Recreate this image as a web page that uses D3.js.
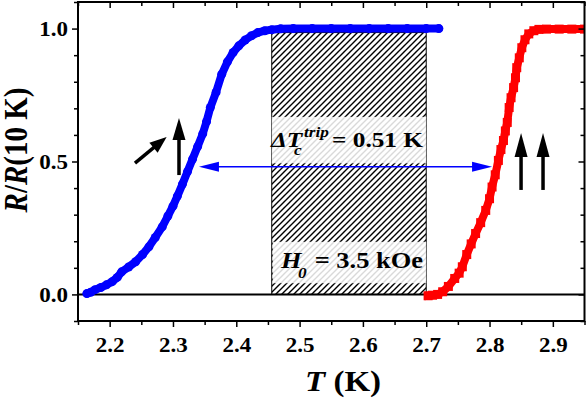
<!DOCTYPE html>
<html><head><meta charset="utf-8">
<script src="https://cdn.jsdelivr.net/npm/d3@7"></script>
<style>body{margin:0;background:#fff}svg{display:block}</style>
</head><body><svg id="c" width="586" height="398"></svg>
<script>
// ---- data ----
const blueT = [2.164,2.170,2.177,2.186,2.195,2.204,2.212,2.219,2.230,2.241,2.252,2.262,2.272,2.283,2.292,2.300,2.307,2.315,2.323,2.331,2.339,2.347,2.353,2.359,2.368,2.377,2.386,2.395,2.404,2.414,2.424,2.434,2.445,2.456,2.470,2.490,2.520,2.550,2.580,2.610,2.640,2.670,2.700,2.720];
const blueR = [0.003,0.008,0.018,0.026,0.036,0.048,0.064,0.085,0.103,0.123,0.150,0.179,0.214,0.254,0.295,0.332,0.370,0.415,0.462,0.509,0.556,0.604,0.650,0.703,0.760,0.828,0.875,0.910,0.935,0.957,0.973,0.985,0.992,0.996,0.999,1.000,1.000,1.000,1.000,1.000,1.000,1.000,1.000,1.000];
const redT = [2.703,2.710,2.718,2.726,2.735,2.745,2.752,2.757,2.764,2.771,2.778,2.786,2.794,2.800,2.804,2.809,2.814,2.818,2.822,2.825,2.828,2.831,2.834,2.838,2.841,2.843,2.847,2.851,2.856,2.862,2.870,2.878,2.890,2.910,2.930,2.950,2.960];
const redR = [-0.005,-0.003,0.000,0.010,0.030,0.060,0.080,0.104,0.150,0.190,0.229,0.270,0.316,0.360,0.404,0.450,0.504,0.545,0.579,0.615,0.647,0.703,0.740,0.778,0.815,0.853,0.890,0.928,0.958,0.980,0.992,0.997,0.998,0.998,0.998,0.998,0.998];
const xTicks = [2.2,2.3,2.4,2.5,2.6,2.7,2.8,2.9];
const xMinor = [2.15,2.25,2.35,2.45,2.55,2.65,2.75,2.85,2.95];
const yTicks = [0.0,0.5,1.0];
const yMinor = [-0.1,0.1,0.2,0.3,0.4,0.6,0.7,0.8,0.9,1.1];
const xTitle = "T";
const tripWindow = [2.456, 2.700];   // hatched range
const tripLabel = "= 0.51 K";
const fieldLabel = "= 3.5 kOe";
const arrowSpan = [2.341, 2.804, 0.480];

// ---- setup ----
const FONT = "'Liberation Serif'";
const SX = 1.15;
const svg = d3.select('#c');
const x = d3.scaleLinear().domain([2.15,2.95]).range([78,584.5]);
const y = d3.scaleLinear().domain([-0.1,1.1]).range([321,2]);
const defs = svg.append('defs');
defs.append('clipPath').attr('id','clip').append('rect')
  .attr('x',x(2.15)).attr('y',y(1.1)).attr('width',x(2.95)-x(2.15)).attr('height',y(-0.1)-y(1.1));
defs.append('pattern').attr('id','hatch').attr('patternUnits','userSpaceOnUse')
  .attr('width',6).attr('height',6)
  .append('path').attr('d','M-1,1 L1,-1 M0,6 L6,0 M5,7 L7,5')
  .attr('stroke','#000').attr('stroke-width',1.4);

function stext(g, px, py, str, size, opt={}) {
  const t = g.append('text')
    .attr('transform', `translate(${px},${py}) scale(${SX},1)`)
    .style('font-family', FONT).style('font-weight','bold')
    .style('font-size', size+'px').attr('text-anchor', opt.anchor || 'start');
  if (opt.italic) t.style('font-style','italic');
  t.text(str);
  return t;
}

const plot = svg.append('g').attr('clip-path','url(#clip)');

// hatched rectangle
const hx0 = x(tripWindow[0]), hx1 = x(tripWindow[1]);
plot.append('rect').attr('x',hx0).attr('y',y(0.985)).attr('width',hx1-hx0).attr('height',y(0)-y(0.985))
  .attr('fill','url(#hatch)').attr('stroke','#000').attr('stroke-width',1);
// label boxes
plot.append('rect').attr('x',hx0).attr('y',y(0.668)).attr('width',hx1-hx0).attr('height',y(0.493)-y(0.668))
  .attr('fill','#fff').attr('fill-opacity',0.85);
plot.append('rect').attr('x',hx0+1).attr('y',y(0.198)).attr('width',hx1-hx0-1).attr('height',y(0.042)-y(0.198))
  .attr('fill','#fff').attr('fill-opacity',0.85);

// zero line
plot.append('line').attr('x1',x(2.15)).attr('x2',x(2.95)).attr('y1',y(0)).attr('y2',y(0))
  .attr('stroke','#000').attr('stroke-width',2);

// texts in boxes
const ann = svg.append('g');
stext(ann, 271, 147, "\u0394T", 22, {italic:true});
stext(ann, 294, 155, "c", 15, {italic:true});
stext(ann, 304, 137, "trip", 15, {italic:true});
stext(ann, 423, 147, tripLabel, 22, {anchor:'end'});
stext(ann, 281, 268, "H", 23, {italic:true});
stext(ann, 298, 278, "0", 15, {italic:true});
stext(ann, 423, 268, fieldLabel, 23, {anchor:'end'});

// data
const blue = blueT.map((t,i)=>[t,blueR[i]]);
const red = redT.map((t,i)=>[t,redR[i]]);
const line = d3.line().x(d=>x(d[0])).y(d=>y(d[1]));
plot.append('path').attr('d',line(blue)).attr('fill','none').attr('stroke','#0000ff')
  .attr('stroke-width',8).attr('stroke-linecap','round').attr('stroke-linejoin','round');
plot.selectAll('circle.b').data(blue).join('circle').attr('cx',d=>x(d[0])).attr('cy',d=>y(d[1])).attr('r',4.5).attr('fill','#0000ff');
plot.append('path').attr('d',line(red)).attr('fill','none').attr('stroke','#ff0000')
  .attr('stroke-width',8).attr('stroke-linecap','square').attr('stroke-linejoin','miter');
plot.selectAll('rect.r').data(red).join('rect').attr('x',d=>x(d[0])-4.5).attr('y',d=>y(d[1])-4.5).attr('width',9).attr('height',9).attr('fill','#ff0000');

// arrows
function arrow(g, x1,y1,x2,y2, hl, hw, sw, col) {
  const a = Math.atan2(y2-y1, x2-x1), c=Math.cos(a), s=Math.sin(a);
  const bx = x2 - hl*c, by = y2 - hl*s;
  g.append('line').attr('x1',x1).attr('y1',y1).attr('x2',bx+ c*1).attr('y2',by+ s*1).attr('stroke',col).attr('stroke-width',sw);
  g.append('path').attr('d',`M${x2},${y2}L${bx - hw*s},${by + hw*c}L${bx + hw*s},${by - hw*c}Z`).attr('fill',col);
}
const ag = svg.append('g');
const ax0 = x(arrowSpan[0]), ax1 = x(arrowSpan[1]), ay = y(arrowSpan[2]);
const mid = (ax0+ax1)/2;
arrow(ag, mid, ay, ax0, ay, 20, 5, 1.5, '#0000ff');
arrow(ag, mid, ay, ax1, ay, 20, 5, 1.5, '#0000ff');
arrow(ag, x(2.240), y(0.494), x(2.290), y(0.592), 17, 6.5, 3.5, '#000');
arrow(ag, x(2.3095), y(0.449), x(2.3095), y(0.664), 22, 6.5, 3.5, '#000');
arrow(ag, x(2.8498), y(0.393), x(2.8498), y(0.607), 24, 6.5, 3.5, '#000');
arrow(ag, x(2.8845), y(0.393), x(2.8845), y(0.607), 24, 6.5, 3.5, '#000');

// axes
function clean(g){ g.select('.domain').remove(); g.selectAll('line').attr('stroke','#000').attr('stroke-width',1.5); }
function styleLabels(g, tr){
  g.selectAll('text').attr('x',null).attr('y',null).attr('dy',null)
    .style('font-size','20px').style('font-family',FONT).style('font-weight','bold')
    .attr('fill','#000').attr('transform',tr);
}
const gb = svg.append('g').attr('transform',`translate(0,${y(-0.1)})`);
gb.call(d3.axisBottom(x).tickValues(xTicks).tickSize(6).tickFormat(d3.format('.1f'))).call(clean);
styleLabels(gb, `translate(0,31) scale(${SX},1)`);
svg.append('g').attr('transform',`translate(0,${y(-0.1)})`).call(d3.axisBottom(x).tickValues(xMinor).tickSize(4).tickFormat('')).call(clean);
svg.append('g').attr('transform',`translate(0,${y(1.1)})`).call(d3.axisBottom(x).tickValues(xTicks).tickSize(6).tickFormat('')).call(clean);
svg.append('g').attr('transform',`translate(0,${y(1.1)})`).call(d3.axisBottom(x).tickValues(xMinor).tickSize(4).tickFormat('')).call(clean);
const gl = svg.append('g').attr('transform',`translate(${x(2.15)},0)`);
gl.call(d3.axisLeft(y).tickValues(yTicks).tickSize(6).tickFormat(d3.format('.1f'))).call(clean);
styleLabels(gl, `translate(-10,7) scale(${SX},1)`);
svg.append('g').attr('transform',`translate(${x(2.15)},0)`).call(d3.axisLeft(y).tickValues(yMinor).tickSize(4).tickFormat('')).call(clean);
svg.append('g').attr('transform',`translate(${x(2.95)},0)`).call(d3.axisLeft(y).tickValues(yTicks).tickSize(6).tickFormat('')).call(clean);
svg.append('g').attr('transform',`translate(${x(2.95)},0)`).call(d3.axisLeft(y).tickValues(yMinor).tickSize(4).tickFormat('')).call(clean);

// frame
svg.append('rect').attr('x',x(2.15)).attr('y',y(1.1)).attr('width',x(2.95)-x(2.15)).attr('height',y(-0.1)-y(1.1))
  .attr('fill','none').attr('stroke','#000').attr('stroke-width',2);

// titles
const tx = svg.append('text').attr('transform',`translate(305,391) scale(1.1,1)`)
  .style('font-size','30px').style('font-family',FONT).style('font-weight','bold');
tx.append('tspan').style('font-style','italic').text(xTitle);
tx.append('tspan').text(' (K)');
const ty = svg.append('text').attr('transform',`translate(27,150) scale(${SX},1) rotate(-90)`)
  .style('font-size','29px').style('font-family',FONT).style('font-weight','bold').attr('text-anchor','middle');
ty.append('tspan').style('font-style','italic').text('R');
ty.append('tspan').text('/');
ty.append('tspan').style('font-style','italic').text('R');
ty.append('tspan').text('(10 K)');
</script></body></html>
